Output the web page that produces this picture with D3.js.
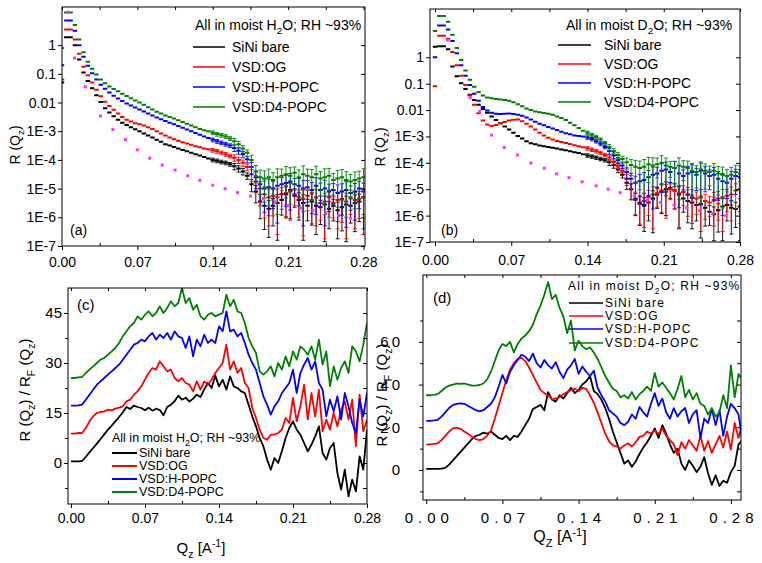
<!DOCTYPE html>
<html><head><meta charset="utf-8">
<script src="https://cdn.jsdelivr.net/npm/d3@7"></script>
<style>body{margin:0;background:#fff}svg{display:block}</style>
</head><body><svg id="chart" width="762" height="563"></svg>
<script>
// ---------------- DATA ----------------
const seriesNames = ["SiNi bare", "VSD:OG", "VSD:H-POPC", "VSD:D4-POPC"];
const seriesColors = ["#000000", "#ff0000", "#0000ff", "#008000"];
const xTicks = [0, 0.07, 0.14, 0.21, 0.28];
const xMinor = [0.035, 0.105, 0.175, 0.245];
const logTicks = [1, 0.1, 0.01, 1e-3, 1e-4, 1e-5, 1e-6, 1e-7];
const logTickLabels = ["1", "0.1", "0.01", "1E-3", "1E-4", "1E-5", "1E-6", "1E-7"];
const cTicks = [0, 15, 30, 45];
const cMinor = [-7.5, 7.5, 22.5, 37.5];
const dTicks = [0, 20, 40, 60];
const dMinor = [-10, 10, 30, 50, 70];

// panels (a),(b): Q values and log10 R values
const qAB = [0,0.004,0.008,0.012,0.016,0.02,0.024,0.028,0.032,0.036,0.04,0.044,0.048,0.052,0.056,0.06,0.064,0.068,0.072,0.076,0.08,0.084,0.088,0.092,0.096,0.1,0.104,0.108,0.112,0.116,0.12,0.124,0.128,0.132,0.136,0.14,0.144,0.148,0.152,0.156,0.16,0.164,0.168,0.172,0.176,0.18,0.184,0.188,0.192,0.196,0.2,0.204,0.208,0.212,0.216,0.22,0.224,0.228,0.232,0.236,0.24,0.244,0.248,0.252,0.256,0.26,0.264,0.268,0.272,0.276,0.28];
const aSiNiLog = [-1.3,0.28,0.28,0.0,-0.5,-0.95,-1.25,-1.5,-1.75,-1.98,-2.2,-2.35,-2.48,-2.6,-2.7,-2.78,-2.86,-2.93,-3.0,-3.08,-3.15,-3.22,-3.3,-3.37,-3.45,-3.5,-3.55,-3.6,-3.65,-3.7,-3.75,-3.8,-3.85,-3.9,-3.95,-4.0,-4.03,-4.07,-4.1,-4.15,-4.22,-4.3,-4.4,-4.55,-4.85,-5.1,-5.45,-5.6,-5.7,-5.6,-5.5,-5.4,-5.2,-5.05,-5.25,-5.4,-5.5,-5.6,-5.45,-5.6,-5.65,-5.55,-5.7,-5.6,-5.75,-5.65,-5.55,-5.6,-5.5,-5.45,-5.3];
const aOGLog = [-1.2,0.55,0.55,0.2,-0.3,-0.75,-1.05,-1.3,-1.55,-1.78,-1.97,-2.12,-2.25,-2.38,-2.5,-2.6,-2.66,-2.72,-2.76,-2.8,-2.86,-2.92,-3.0,-3.08,-3.15,-3.22,-3.28,-3.33,-3.38,-3.43,-3.47,-3.52,-3.56,-3.6,-3.63,-3.66,-3.7,-3.75,-3.8,-3.86,-3.92,-4.0,-4.1,-4.25,-4.5,-4.75,-5.0,-5.2,-5.3,-5.25,-5.3,-5.2,-5.15,-5.1,-5.2,-5.3,-5.35,-5.25,-5.4,-5.3,-5.5,-5.45,-5.3,-5.5,-5.4,-5.35,-5.45,-5.3,-5.4,-5.35,-5.3];
const aHPOPCLog = [-0.7,0.86,0.86,0.5,0.0,-0.4,-0.72,-0.98,-1.2,-1.38,-1.52,-1.65,-1.76,-1.86,-1.95,-2.03,-2.1,-2.17,-2.24,-2.31,-2.38,-2.45,-2.52,-2.58,-2.64,-2.7,-2.76,-2.82,-2.88,-2.94,-3.0,-3.06,-3.12,-3.18,-3.24,-3.3,-3.35,-3.4,-3.45,-3.5,-3.58,-3.68,-3.8,-3.98,-4.25,-4.6,-4.85,-5.0,-4.95,-5.0,-4.9,-4.85,-4.8,-4.75,-4.85,-4.9,-5.0,-4.95,-5.05,-4.9,-5.05,-5.0,-5.1,-5.05,-5.15,-5.1,-5.05,-5.15,-5.1,-5.0,-5.1];
const aD4POPCLog = [-0.1,1.14,1.14,0.7,0.2,-0.25,-0.58,-0.82,-1.02,-1.2,-1.33,-1.44,-1.53,-1.61,-1.69,-1.77,-1.85,-1.93,-2.0,-2.08,-2.16,-2.24,-2.32,-2.38,-2.45,-2.5,-2.56,-2.62,-2.68,-2.74,-2.8,-2.86,-2.92,-2.97,-3.0,-3.05,-3.1,-3.14,-3.18,-3.25,-3.35,-3.45,-3.6,-3.75,-4.0,-4.4,-4.6,-4.65,-4.6,-4.7,-4.6,-4.55,-4.5,-4.55,-4.45,-4.6,-4.5,-4.55,-4.6,-4.5,-4.65,-4.6,-4.55,-4.7,-4.65,-4.6,-4.7,-4.75,-4.7,-4.65,-4.6];
const bSiNiLog = [0.4,0.42,0.42,0.3,-0.35,-0.72,-0.98,-1.2,-1.42,-1.62,-1.8,-1.96,-2.1,-2.24,-2.38,-2.5,-2.62,-2.74,-2.86,-2.98,-3.08,-3.18,-3.26,-3.3,-3.34,-3.37,-3.4,-3.43,-3.46,-3.49,-3.52,-3.56,-3.6,-3.63,-3.67,-3.72,-3.76,-3.8,-3.85,-3.9,-3.98,-4.08,-4.25,-4.45,-4.75,-5.0,-5.4,-5.55,-5.6,-5.5,-5.35,-5.2,-5.1,-5.0,-4.95,-5.05,-5.2,-5.35,-5.45,-5.5,-5.6,-5.55,-5.7,-5.85,-5.95,-5.8,-5.65,-5.6,-5.7,-5.75,-5.65];
const bOGLog = [-1.1,0.82,0.82,0.7,0.2,-0.3,-0.7,-1.05,-1.45,-1.8,-2.12,-2.4,-2.55,-2.6,-2.57,-2.5,-2.45,-2.4,-2.37,-2.36,-2.42,-2.52,-2.62,-2.74,-2.86,-2.96,-3.05,-3.12,-3.17,-3.21,-3.25,-3.29,-3.33,-3.37,-3.41,-3.45,-3.5,-3.56,-3.62,-3.7,-3.8,-3.95,-4.1,-4.3,-4.6,-5.0,-5.35,-5.5,-5.45,-5.3,-5.2,-5.15,-5.05,-5.1,-5.0,-5.05,-5.15,-5.1,-5.2,-5.3,-5.35,-5.3,-5.45,-5.5,-5.4,-5.35,-5.3,-5.25,-5.2,-5.05,-5.0];
const bHPOPCLog = [0.0,1.2,1.2,1.05,0.62,0.15,-0.3,-0.7,-1.05,-1.38,-1.65,-1.88,-2.02,-2.1,-2.14,-2.15,-2.14,-2.13,-2.15,-2.18,-2.22,-2.28,-2.36,-2.44,-2.52,-2.58,-2.64,-2.7,-2.76,-2.82,-2.88,-2.92,-2.96,-2.98,-3.0,-3.04,-3.1,-3.18,-3.28,-3.4,-3.55,-3.72,-3.9,-4.1,-4.35,-4.6,-4.75,-4.7,-4.65,-4.55,-4.45,-4.4,-4.3,-4.25,-4.35,-4.2,-4.4,-4.5,-4.4,-4.35,-4.45,-4.3,-4.4,-4.5,-4.45,-4.6,-4.7,-4.75,-4.6,-4.5,-4.55];
const bD4POPCLog = [1.0,1.56,1.56,1.35,0.85,0.35,-0.1,-0.5,-0.85,-1.12,-1.32,-1.45,-1.52,-1.55,-1.58,-1.6,-1.62,-1.65,-1.7,-1.78,-1.86,-1.94,-2.0,-2.05,-2.08,-2.11,-2.14,-2.18,-2.24,-2.3,-2.38,-2.48,-2.58,-2.68,-2.78,-2.86,-2.94,-3.02,-3.12,-3.25,-3.4,-3.55,-3.7,-3.85,-3.98,-4.08,-4.15,-4.2,-4.15,-4.05,-4.1,-4.05,-4.0,-4.1,-4.15,-4.2,-4.1,-4.15,-4.2,-4.3,-4.35,-4.25,-4.3,-4.35,-4.3,-4.4,-4.45,-4.5,-4.45,-4.35,-4.4];
// relative error (dR/R) per Q point
const relErrAB = [0.04,0.04,0.04,0.04,0.04,0.04,0.04,0.04,0.06,0.06,0.06,0.06,0.06,0.06,0.06,0.06,0.06,0.06,0.06,0.06,0.06,0.06,0.06,0.06,0.06,0.1,0.1,0.1,0.1,0.1,0.1,0.1,0.1,0.1,0.1,0.15,0.15,0.15,0.15,0.15,0.25,0.25,0.25,0.25,0.45,0.6,0.75,0.85,0.9,0.8,0.95,0.7,0.85,0.9,0.6,0.8,0.95,0.7,0.85,0.9,0.75,0.95,0.8,0.7,0.9,0.85,0.95,0.75,0.9,0.8,0.95];
// Fresnel reflectivity (magenta dots), log10 R
const fresAq = [0.0056,0.0117,0.0218,0.0358,0.0473,0.059,0.07,0.0815,0.093,0.105,0.1167,0.128,0.14,0.1515,0.163,0.175,0.187,0.198,0.21,0.2215,0.233,0.245,0.257,0.268];
const fresALog = [1.15,-0.45,-1.45,-2.47,-2.94,-3.29,-3.65,-3.94,-4.18,-4.35,-4.55,-4.71,-4.88,-5.0,-5.14,-5.26,-5.35,-5.47,-5.59,-5.68,-5.76,-5.85,-5.94,-6.03];
const fresBq = [0.0117,0.0324,0.041,0.052,0.0636,0.0758,0.088,0.1003,0.1116,0.123,0.135,0.148,0.159,0.17,0.183,0.195,0.207,0.2195,0.231,0.243,0.255,0.267];
const fresBLog = [0.65,-1.54,-2.05,-2.95,-3.42,-3.7,-4.01,-4.2,-4.42,-4.56,-4.72,-4.87,-5.0,-5.13,-5.25,-5.4,-5.5,-5.6,-5.7,-5.81,-5.91,-6.0];

// panels (c),(d): R/RF
const qCD = [0,0.0035,0.007,0.0105,0.014,0.0175,0.021,0.0245,0.028,0.0315,0.035,0.0385,0.042,0.0455,0.049,0.0525,0.056,0.0595,0.063,0.0665,0.07,0.0735,0.077,0.0805,0.084,0.0875,0.091,0.0945,0.098,0.1015,0.105,0.1085,0.112,0.1155,0.119,0.1225,0.126,0.1295,0.133,0.1365,0.14,0.1435,0.147,0.1505,0.154,0.1575,0.161,0.1645,0.168,0.1715,0.175,0.1785,0.182,0.1855,0.189,0.1925,0.196,0.1995,0.203,0.2065,0.21,0.2135,0.217,0.2205,0.224,0.2275,0.231,0.2345,0.238,0.2415,0.245,0.2485,0.252,0.2555,0.259,0.2625,0.266,0.2695,0.273,0.2765,0.28,0.2835,0.287,0.2905];
const cSiNi = [0.5,0.5,0.5,0.6,1.8,3.2,4.5,5.8,7.2,8.6,10.0,11.2,12.5,13.8,15.2,16.8,16.2,17.2,16.8,16.5,15.8,16.6,15.7,16.3,15.9,14.3,16.8,17.5,18.5,20.2,19.0,19.6,18.4,19.3,20.5,19.8,22.0,24.0,22.5,26.2,23.0,25.0,22.0,26.0,23.0,22.5,21.5,21.0,17.5,14.0,11.0,7.5,5.0,1.0,-2.0,1.5,0.0,3.5,7.5,10.5,12.5,10.0,8.5,6.0,3.5,5.5,8.0,11.0,3.0,1.0,4.5,6.0,-3.0,-8.0,-2.0,-10.0,-5.0,-8.5,2.0,-2.0,10.0];
const cOG = [8.8,8.8,9.0,9.0,10.5,12.5,14.0,15.0,15.3,15.5,16.0,15.8,16.3,16.6,17.0,18.5,19.0,20.5,21.5,23.0,25.0,27.0,28.5,28.0,30.5,29.0,27.5,28.0,25.5,24.5,25.5,24.0,23.5,21.5,24.5,22.0,24.5,23.5,25.0,27.0,28.5,30.0,35.5,28.0,30.5,27.0,28.5,24.0,22.5,16.5,13.5,10.0,7.5,7.0,8.5,8.5,9.0,10.0,13.5,12.0,19.5,12.5,17.0,23.5,13.0,21.0,14.0,22.0,9.5,13.0,10.0,15.0,11.0,16.0,18.5,13.0,19.0,5.0,20.5,9.5,13.0];
const cHPOPC = [17.2,17.2,17.3,17.5,19.0,20.5,22.0,23.5,24.5,25.5,26.5,27.5,28.5,29.5,31.0,32.5,34.0,35.5,36.0,37.0,36.5,38.0,39.0,37.0,38.5,37.5,39.0,37.0,39.5,38.0,37.5,34.5,38.0,32.0,37.0,35.0,38.5,36.0,37.0,36.0,41.0,39.5,45.5,39.5,40.0,38.0,39.0,36.0,32.5,30.0,28.0,24.0,20.0,17.5,14.5,17.0,18.5,21.0,22.5,24.0,28.0,21.0,27.0,29.5,31.5,28.0,30.5,24.0,22.0,14.0,19.0,15.5,20.0,13.0,21.0,17.0,12.0,9.0,19.0,14.0,21.0];
const cD4POPC = [25.5,25.5,25.7,25.8,27.0,28.0,29.0,30.0,31.0,31.5,32.5,33.5,34.5,36.0,38.0,39.5,41.0,42.0,44.0,43.0,44.5,45.5,44.0,45.0,47.0,45.0,46.5,48.5,47.0,48.0,52.5,48.0,49.5,46.0,47.5,44.0,43.0,44.5,45.0,44.0,44.5,45.0,50.5,47.0,49.0,45.5,45.0,42.0,37.5,35.0,33.0,27.5,26.5,27.5,29.0,26.0,30.0,28.0,32.0,29.0,33.5,31.0,35.0,34.0,32.5,35.0,31.0,37.0,29.5,33.5,23.0,29.0,25.0,28.5,30.5,27.0,35.0,33.5,30.5,35.5,42.0];
const dSiNi = [0.5,0.5,0.5,0.5,0.6,1.0,2.5,4.5,6.5,8.5,10.5,12.5,14.5,16.0,16.5,17.5,17.0,18.0,16.5,15.0,14.5,16.0,14.0,16.0,15.5,18.0,21.0,24.0,28.5,29.5,30.5,28.0,36.5,33.0,32.0,35.0,33.5,36.0,38.5,36.0,37.5,40.0,41.5,44.0,37.0,35.5,33.0,29.0,24.0,18.0,13.0,8.0,3.0,4.5,1.5,4.0,7.5,10.5,13.0,16.0,19.5,15.0,21.0,17.0,12.0,8.0,10.0,3.0,0.0,4.5,2.0,-1.0,1.5,6.0,-1.5,-7.0,-2.5,-7.5,-5.0,-6.0,-1.0,2.0,12.0,14.0];
const dOG = [12,12,12.2,12.5,14.0,16.0,18.0,19.5,19.8,19.3,18.0,17.0,15.5,14.5,14.0,14.5,16.0,18.5,24.0,30.0,36.0,42.0,47.0,50.0,52.0,52.5,51.0,48.0,44.5,41.0,37.5,36.0,35.0,33.0,33.5,34.0,35.5,36.5,37.5,38.0,37.0,38.5,38.0,35.0,31.5,27.0,22.0,17.0,13.5,11.5,11.0,10.0,11.5,12.5,11.0,13.0,15.5,16.0,18.0,17.0,18.5,17.0,19.5,16.0,14.0,12.0,7.0,13.0,10.0,14.0,11.5,9.0,16.0,9.0,13.5,8.0,12.0,16.0,10.5,18.0,9.5,22.0,15.0,22.0];
const dHPOPC = [23,23,23.2,23.5,25.0,27.0,29.0,30.5,31.0,31.2,31.0,30.0,29.0,28.0,27.5,28.0,29.5,31.0,34.0,39.0,44.5,40.5,46.0,49.0,51.5,54.0,53.0,51.0,54.5,50.0,48.0,51.5,49.0,47.5,50.5,46.0,43.0,47.0,49.0,52.0,45.0,48.5,46.0,44.0,46.5,38.5,35.0,32.0,28.0,26.5,25.0,22.0,21.0,22.5,26.0,24.0,29.5,27.0,25.0,31.0,36.0,30.0,33.5,27.0,24.0,29.0,25.0,27.5,29.0,22.0,26.0,28.0,15.0,24.0,22.0,28.5,21.0,28.0,16.0,25.0,31.0,29.0,26.0,14.0];
const dD4POPC = [35,35,35.2,35.5,37.0,38.5,39.5,40.0,40.5,40.3,40.5,40.0,39.5,39.5,39.8,40.5,42.5,46.0,51.0,56.0,59.0,58.0,60.0,55.0,59.0,61.5,63.0,65.0,68.0,73.0,77.0,82.0,88.0,80.0,82.0,76.0,72.0,64.0,70.0,56.0,60.5,58.0,56.5,57.5,55.0,52.0,48.0,44.0,41.0,38.0,37.0,34.0,35.0,33.5,36.5,33.0,35.5,37.0,39.0,37.0,45.5,39.0,41.0,38.5,36.0,33.0,38.0,44.0,34.0,37.5,33.0,36.0,31.0,30.0,26.0,29.0,25.0,27.0,35.0,29.0,49.0,34.0,45.0,42.0];

// ---------------- DRAWING ----------------
const FAM = '"Liberation Sans", Arial, Helvetica, sans-serif';
const svg = d3.select("#chart");

function rich(t, parts, fs) {
  let shift = 0;
  parts.forEach(([s, k]) => {
    const target = k === "sub" ? fs * 0.3 : (k === "sup" ? -fs * 0.4 : 0);
    const ts = t.append("tspan").text(s).attr("dy", target - shift);
    if (k) ts.attr("font-size", fs * 0.7);
    shift = target;
  });
  return t;
}
function txt(g, x, y, fs, anchor, ls) {
  return g.append("text").attr("x", x).attr("y", y).attr("font-family", FAM).attr("font-size", fs)
    .attr("text-anchor", anchor || "start").attr("fill", "#000").attr("letter-spacing", ls || 0);
}

function drawAxes(g, x, y, P, o) {
  const style = sel => {
    sel.select(".domain").remove();
    sel.selectAll("line").attr("stroke", "#000").attr("stroke-width", 1);
    sel.selectAll("text").attr("font-family", FAM).attr("fill", "#000");
  };
  const bx = g.append("g").attr("transform", `translate(0,${P.b})`)
    .call(d3.axisBottom(x).tickValues(xTicks).tickFormat(d3.format(".2f")).tickSize(4).tickSizeOuter(0).tickPadding(o.xpad)).call(style);
  bx.selectAll("text").attr("font-size", o.xfs).attr("letter-spacing", o.xls || 0).attr("dx", (o.xls || 0) / 2);
  g.append("g").attr("transform", `translate(0,${P.b})`)
    .call(d3.axisBottom(x).tickValues(xMinor).tickFormat("").tickSize(-3).tickSizeOuter(0)).call(style);
  g.append("g").attr("transform", `translate(0,${P.t})`)
    .call(d3.axisTop(x).tickValues(xTicks.concat(xMinor)).tickFormat("").tickSize(-3).tickSizeOuter(0)).call(style);
  const ly = g.append("g").attr("transform", `translate(${P.l},0)`)
    .call(d3.axisLeft(y).tickValues(o.yt).tickFormat(o.yf).tickSize(4).tickSizeOuter(0).tickPadding(o.ypad)).call(style);
  ly.selectAll("text").attr("font-size", o.yfs).attr("letter-spacing", o.yls || 0);
  if (o.ym) g.append("g").attr("transform", `translate(${P.l},0)`)
    .call(d3.axisLeft(y).tickValues(o.ym).tickFormat("").tickSize(3).tickSizeOuter(0)).call(style);
  g.append("g").attr("transform", `translate(${P.r},0)`)
    .call(d3.axisRight(y).tickValues(o.yt.concat(o.ym || [])).tickFormat("").tickSize(-4).tickSizeOuter(0)).call(style);
  g.append("rect").attr("x", P.l).attr("y", P.t).attr("width", P.r - P.l).attr("height", P.b - P.t)
    .attr("fill", "none").attr("stroke", "#000").attr("stroke-width", 1);
}

function clip(id, P) {
  svg.append("clipPath").attr("id", id).append("rect")
    .attr("x", P.l).attr("y", P.t).attr("width", P.r - P.l).attr("height", P.b - P.t);
}

function legend(g, L) {
  rich(txt(g, L.hx, L.hy, L.fs, "start", L.ls), L.header, L.fs);
  seriesNames.forEach((n, i) => {
    const yy = L.rows[i];
    g.append("line").attr("x1", L.lx1).attr("x2", L.lx2).attr("y1", yy).attr("y2", yy)
      .attr("stroke", seriesColors[i]).attr("stroke-width", L.lw);
    txt(g, L.tx, yy + L.fs * 0.35, L.fs, "start", L.ls).text(n);
  });
}

// ---- log panels (a), (b)
function logPanel(P, logSeries, fq, fv, id) {
  const g = svg.append("g");
  clip(id, P);
  const x = d3.scaleLinear().domain([P.xmin, P.xmax]).range([P.l, P.r]);
  const y = d3.scaleLog().domain([1e-7, P.ymax]).range([P.b, P.t]);
  const pg = g.append("g").attr("clip-path", `url(#${id})`);
  logSeries.forEach((arr, si) => {
    let eb = "", mk = "";
    arr.forEach((lv, i) => {
      const R = Math.pow(10, lv), f = relErrAB[i];
      const px = x(qAB[i]), py = y(R);
      const hi = y(R * (1 + f));
      const lo = (1 - f) * R > 1e-7 ? y(R * (1 - f)) : P.b + 2;
      if (Math.abs(lo - hi) > 3) {
        eb += `M${px},${lo}V${hi}M${px - 2},${hi}h4`;
        if (lo < P.b) eb += `M${px - 2},${lo}h4`;
      }
      mk += `M${px - 2.2},${py}h4.4`;
    });
    pg.append("path").attr("d", eb).attr("stroke", seriesColors[si]).attr("stroke-width", 0.9).attr("fill", "none");
    pg.append("path").attr("d", mk).attr("stroke", seriesColors[si]).attr("stroke-width", 2).attr("fill", "none");
  });
  fq.forEach((q, i) => {
    pg.append("rect").attr("x", x(q) - 1.5).attr("y", y(Math.pow(10, fv[i])) - 1.5)
      .attr("width", 3).attr("height", 3).attr("fill", "#ff33ff");
  });
  drawAxes(g, x, y, P, { xpad: P.xpad, xfs: 14, ypad: 2, yfs: 14, yt: logTicks, yf: (d, i) => logTickLabels[i] });
  return g;
}

// ---- linear panels (c), (d)
function linPanel(P, series, id, o) {
  const g = svg.append("g");
  clip(id, P);
  const x = d3.scaleLinear().domain([P.xmin, P.xmax]).range([P.l, P.r]);
  const y = d3.scaleLinear().domain([P.ymin, P.ymax]).range([P.b, P.t]);
  const pg = g.append("g").attr("clip-path", `url(#${id})`);
  const line = d3.line().x(d => x(d[0])).y(d => y(d[1]));
  series.forEach((arr, si) => {
    pg.append("path").datum(arr.map((v, i) => [qCD[i], v])).attr("d", line)
      .attr("fill", "none").attr("stroke", seriesColors[si]).attr("stroke-width", 1.8).attr("stroke-linejoin", "round");
  });
  drawAxes(g, x, y, P, o);
  return g;
}

// Panel (a)
const PA = { l: 62, r: 365, t: 7, b: 246, xmin: 0, xmax: 0.2814, ymax: Math.pow(10, 1.33), xpad: 7 };
const ga = logPanel(PA, [aSiNiLog, aOGLog, aHPOPCLog, aD4POPCLog], fresAq, fresALog, "clipA");
legend(ga, { hx: 195, hy: 30, fs: 14, header: [["All in moist H", ""], ["2", "sub"], ["O; RH ~93%", ""]],
  rows: [47, 67, 87, 107], lx1: 193, lx2: 225, tx: 232, lw: 1.5 });
txt(ga, 70, 235, 14).text("(a)");
rich(txt(ga, 0, 0, 14, "middle").attr("transform", "translate(20,145) rotate(-90)"), [["R (Q", ""], ["z", "sub"], [")", ""]], 14);

// Panel (b)
const PB = { l: 430, r: 740, t: 9, b: 242, xmin: -0.0046, xmax: 0.28, ymax: Math.pow(10, 1.83), xpad: 9 };
const gb = logPanel(PB, [bSiNiLog, bOGLog, bHPOPCLog, bD4POPCLog], fresBq, fresBLog, "clipB");
legend(gb, { hx: 566, hy: 30, fs: 14, header: [["All in moist D", ""], ["2", "sub"], ["O; RH ~93%", ""]],
  rows: [45, 64, 83, 102], lx1: 558, lx2: 591, tx: 604, lw: 1.5 });
txt(gb, 441, 235, 14).text("(b)");
rich(txt(gb, 0, 0, 14, "middle").attr("transform", "translate(385,147) rotate(-90)"), [["R (Q", ""], ["z", "sub"], [")", ""]], 14);

// Panel (c)
const PC = { l: 68, r: 367, t: 288, b: 504, xmin: -0.0028, xmax: 0.28, ymin: -12.3, ymax: 52.5 };
const gc = linPanel(PC, [cSiNi, cOG, cHPOPC, cD4POPC], "clipC",
  { xpad: 5, xfs: 14, ypad: 2, yfs: 15, yt: cTicks, ym: cMinor, yf: d3.format("d") });
legend(gc, { hx: 112, hy: 442, fs: 12.5, header: [["All in moist H", ""], ["2", "sub"], ["O; RH ~93%", ""]],
  rows: [453, 466, 479, 492], lx1: 112, lx2: 137, tx: 139, lw: 2 });
txt(gc, 77, 310, 15).text("(c)");
rich(txt(gc, 0, 0, 15, "middle").attr("transform", "translate(30,390) rotate(-90)"),
  [["R (Q", ""], ["z", "sub"], [") / R", ""], ["F", "sub"], [" (Q", ""], ["z", "sub"], [")", ""]], 15);
rich(txt(gc, 201, 553, 15, "middle"), [["Q", ""], ["z", "sub"], [" [A", ""], ["-1", "sup"], ["]", ""]], 15);

// Panel (d)
const PD = { l: 423, r: 741, t: 275, b: 500, xmin: -0.003, xmax: 0.2893, ymin: -14.05, ymax: 91.3 };
const gd = linPanel(PD, [dSiNi, dOG, dHPOPC, dD4POPC], "clipD",
  { xpad: 8, xfs: 15, xls: 5, ypad: 16, yfs: 15, yls: 3, yt: dTicks, ym: dMinor, yf: d3.format("d") });
legend(gd, { hx: 568, hy: 290, fs: 12, ls: 1.2, header: [["All in moist D", ""], ["2", "sub"], ["O; RH ~93%", ""]],
  rows: [303, 316, 329, 343], lx1: 569, lx2: 603, tx: 605, lw: 1.5 });
txt(gd, 433, 303, 15).text("(d)");
rich(txt(gd, 0, 0, 15, "middle").attr("transform", "translate(387,395) rotate(-90)"),
  [["R (Q", ""], ["z", "sub"], [") / R", ""], ["F", "sub"], [" (Q", ""], ["z", "sub"], [")", ""]], 15);
rich(txt(gd, 560, 542, 16, "middle"), [["Q", ""], ["Z", "sub"], [" [A", ""], ["-1", "sup"], ["]", ""]], 16);
</script></body></html>
